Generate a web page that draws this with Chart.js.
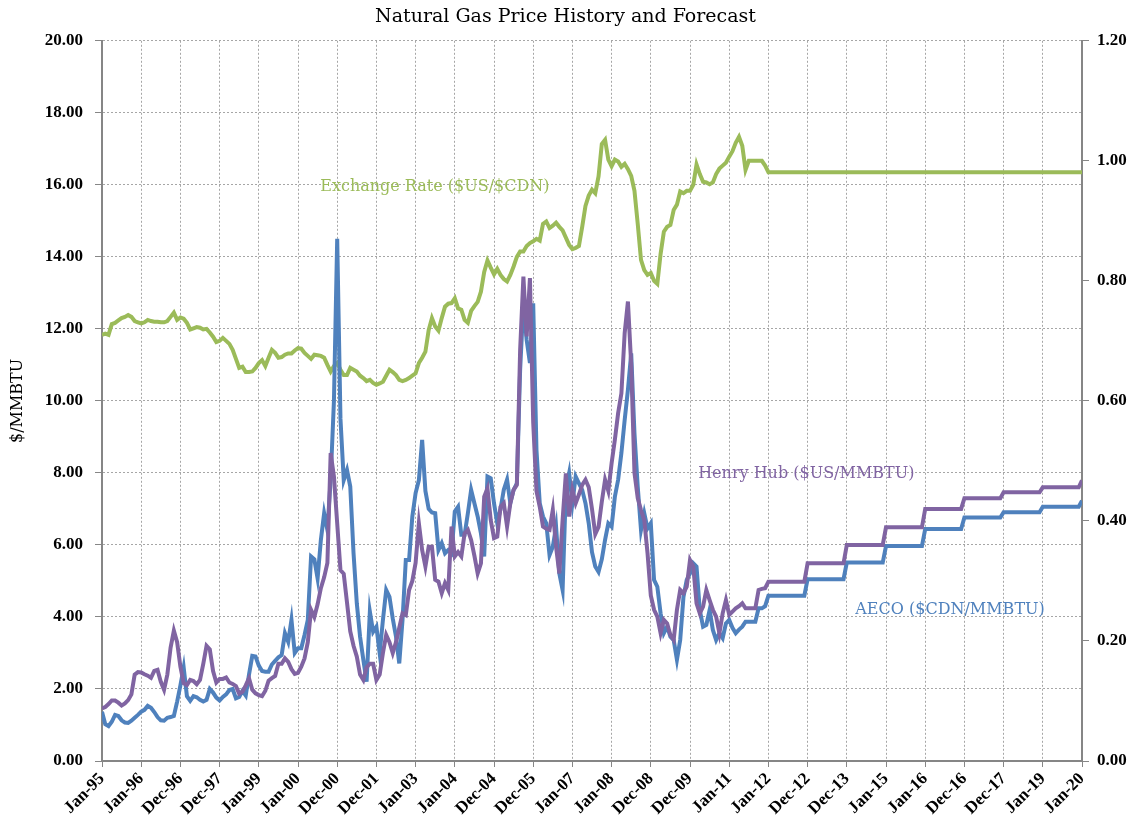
<!DOCTYPE html>
<html>
<head>
<meta charset="utf-8">
<script src="https://cdn.jsdelivr.net/npm/chart.js@4.4.1/dist/chart.umd.min.js"></script>
<style>
  body { margin: 0; background: #fff; }
  canvas { display: block; }
</style>
</head>
<body>
<canvas id="gasChart" width="1131" height="831"></canvas>
<script>
// x tick labels, one every 12 months from Jan-95
const tickLabels = ['Jan-95', 'Jan-96', 'Dec-96', 'Dec-97', 'Jan-99', 'Jan-00', 'Dec-00', 'Dec-01',
  'Jan-03', 'Jan-04', 'Dec-04', 'Dec-05', 'Jan-07', 'Jan-08', 'Dec-08', 'Dec-09', 'Jan-11',
  'Jan-12', 'Dec-12', 'Dec-13', 'Jan-15', 'Jan-16', 'Dec-16', 'Dec-17', 'Jan-19', 'Jan-20'];

// monthly, Jan-95 .. Jan-20 (one row per year)
const henryHub = [
  1.46, 1.50, 1.58, 1.68, 1.68, 1.62, 1.54, 1.60, 1.69, 1.85, 2.40, 2.47,
  2.46, 2.41, 2.37, 2.31, 2.50, 2.53, 2.20, 1.98, 2.40, 3.15, 3.62, 3.30,
  2.62, 2.16, 2.11, 2.25, 2.22, 2.13, 2.25, 2.70, 3.20, 3.10, 2.50, 2.18,
  2.28, 2.28, 2.32, 2.18, 2.14, 2.08, 1.87, 1.92, 2.10, 2.30, 1.98, 1.88,
  1.83, 1.80, 1.95, 2.23, 2.30, 2.36, 2.70, 2.70, 2.85, 2.75, 2.55, 2.42,
  2.45, 2.62, 2.85, 3.30, 4.20, 4.00, 4.35, 4.80, 5.10, 5.50, 8.55, 7.90,
  6.60, 5.30, 5.20, 4.40, 3.60, 3.20, 2.90, 2.40, 2.25, 2.60, 2.70, 2.70,
  2.25, 2.40, 3.00, 3.50, 3.30, 3.00, 3.30, 3.70, 4.10, 4.05, 4.75, 5.00,
  5.50, 6.60, 5.86, 5.40, 5.95, 5.95, 5.03, 4.98, 4.66, 4.94, 4.75, 6.51,
  5.68, 5.80, 5.68, 6.32, 6.42, 6.14, 5.70, 5.21, 5.49, 7.34, 7.57, 6.69,
  6.19, 6.23, 7.06, 7.16, 6.51, 7.16, 7.53, 7.67, 11.42, 13.45, 11.79, 13.41,
  9.40, 7.50, 7.06, 6.51, 6.45, 6.42, 6.97, 5.95, 5.21, 6.69, 7.99, 6.79,
  7.53, 7.16, 7.40, 7.67, 7.81, 7.60, 7.00, 6.30, 6.50, 7.20, 7.81, 7.50,
  8.27, 8.92, 9.66, 10.21, 11.88, 12.76, 11.00, 8.00, 7.30, 6.97, 6.69, 5.77,
  4.60, 4.20, 4.01, 3.55, 3.92, 3.82, 3.50, 3.36, 4.20, 4.75, 4.66, 4.84,
  5.58, 5.40, 4.38, 4.10, 4.29, 4.75, 4.47, 4.20, 4.01, 3.55, 4.10, 4.47,
  4.06, 4.15, 4.24, 4.30, 4.38, 4.24, 4.24, 4.24, 4.24, 4.75, 4.78, 4.80,
  4.98, 4.98, 4.98, 4.98, 4.98, 4.98, 4.98, 4.98, 4.98, 4.98, 4.98, 4.98,
  5.49, 5.49, 5.49, 5.49, 5.49, 5.49, 5.49, 5.49, 5.49, 5.49, 5.49, 5.49,
  6.00, 6.00, 6.00, 6.00, 6.00, 6.00, 6.00, 6.00, 6.00, 6.00, 6.00, 6.00,
  6.49, 6.49, 6.49, 6.49, 6.49, 6.49, 6.49, 6.49, 6.49, 6.49, 6.49, 6.49,
  7.00, 7.00, 7.00, 7.00, 7.00, 7.00, 7.00, 7.00, 7.00, 7.00, 7.00, 7.00,
  7.30, 7.30, 7.30, 7.30, 7.30, 7.30, 7.30, 7.30, 7.30, 7.30, 7.30, 7.30,
  7.46, 7.46, 7.46, 7.46, 7.46, 7.46, 7.46, 7.46, 7.46, 7.46, 7.46, 7.46,
  7.60, 7.60, 7.60, 7.60, 7.60, 7.60, 7.60, 7.60, 7.60, 7.60, 7.60, 7.60,
  7.79
];

const aeco = [
  1.37, 1.02, 0.97, 1.09, 1.28, 1.25, 1.13, 1.07, 1.06, 1.12, 1.20, 1.28,
  1.37, 1.42, 1.53, 1.48, 1.36, 1.22, 1.13, 1.12, 1.20, 1.22, 1.25, 1.65,
  2.10, 2.60, 1.80, 1.67, 1.80, 1.77, 1.70, 1.65, 1.70, 2.00, 1.90, 1.76,
  1.68, 1.78, 1.85, 1.97, 2.00, 1.74, 1.78, 1.95, 1.82, 2.40, 2.92, 2.90,
  2.65, 2.50, 2.48, 2.48, 2.68, 2.78, 2.88, 2.94, 3.55, 3.31, 3.92, 3.00,
  3.13, 3.13, 3.50, 3.92, 5.68, 5.60, 5.07, 6.14, 6.88, 6.42, 7.81, 10.00,
  14.50, 9.50, 7.80, 8.08, 7.62, 5.77, 4.38, 3.45, 2.81, 2.20, 4.15, 3.59,
  3.73, 2.99, 3.92, 4.75, 4.56, 3.96, 3.45, 2.71, 3.92, 5.58, 5.58, 6.79,
  7.44, 7.80, 8.92, 7.50, 7.00, 6.90, 6.88, 5.86, 6.05, 5.77, 5.86, 5.77,
  6.93, 7.06, 6.28, 6.28, 6.88, 7.53, 7.16, 6.79, 6.32, 5.68, 7.90, 7.85,
  7.16, 6.60, 7.00, 7.53, 7.81, 7.16, 7.53, 7.71, 10.86, 12.71, 11.69, 11.05,
  12.71, 8.64, 7.16, 6.79, 6.60, 5.72, 5.95, 6.51, 5.21, 4.75, 7.53, 7.99,
  7.16, 7.90, 7.71, 7.53, 7.16, 6.60, 5.80, 5.40, 5.25, 5.60, 6.14, 6.60,
  6.51, 7.34, 7.81, 8.55, 9.47, 10.31, 11.32, 9.10, 7.62, 6.42, 6.88, 6.46,
  6.60, 5.03, 4.84, 4.10, 3.55, 3.73, 3.45, 3.36, 2.81, 3.36, 4.56, 5.03,
  5.21, 5.49, 5.40, 4.19, 3.73, 3.78, 4.19, 3.64, 3.36, 3.55, 3.41, 3.82,
  3.92, 3.70, 3.55, 3.65, 3.73, 3.87, 3.87, 3.87, 3.87, 4.24, 4.24, 4.30,
  4.59, 4.59, 4.59, 4.59, 4.59, 4.59, 4.59, 4.59, 4.59, 4.59, 4.59, 4.59,
  5.05, 5.05, 5.05, 5.05, 5.05, 5.05, 5.05, 5.05, 5.05, 5.05, 5.05, 5.05,
  5.51, 5.51, 5.51, 5.51, 5.51, 5.51, 5.51, 5.51, 5.51, 5.51, 5.51, 5.51,
  5.97, 5.97, 5.97, 5.97, 5.97, 5.97, 5.97, 5.97, 5.97, 5.97, 5.97, 5.97,
  6.44, 6.44, 6.44, 6.44, 6.44, 6.44, 6.44, 6.44, 6.44, 6.44, 6.44, 6.44,
  6.76, 6.76, 6.76, 6.76, 6.76, 6.76, 6.76, 6.76, 6.76, 6.76, 6.76, 6.76,
  6.91, 6.91, 6.91, 6.91, 6.91, 6.91, 6.91, 6.91, 6.91, 6.91, 6.91, 6.91,
  7.06, 7.06, 7.06, 7.06, 7.06, 7.06, 7.06, 7.06, 7.06, 7.06, 7.06, 7.06,
  7.23
];

const exchangeRate = [
  0.710, 0.712, 0.710, 0.728, 0.730, 0.734, 0.738, 0.740, 0.743, 0.740, 0.733, 0.731,
  0.729, 0.731, 0.735, 0.733, 0.732, 0.732, 0.731, 0.731, 0.733, 0.740, 0.747, 0.735,
  0.739, 0.737, 0.730, 0.719, 0.721, 0.723, 0.722, 0.719, 0.720, 0.714, 0.707, 0.698,
  0.700, 0.705, 0.700, 0.695, 0.685, 0.670, 0.655, 0.657, 0.648, 0.648, 0.649, 0.655,
  0.663, 0.668, 0.658, 0.672, 0.685, 0.680, 0.672, 0.673, 0.677, 0.679, 0.679, 0.684,
  0.688, 0.687, 0.680, 0.675, 0.670, 0.677, 0.676, 0.675, 0.672, 0.660, 0.649, 0.658,
  0.663, 0.652, 0.643, 0.643, 0.655, 0.652, 0.649, 0.642, 0.638, 0.633, 0.635, 0.630,
  0.627, 0.629, 0.632, 0.642, 0.652, 0.648, 0.643, 0.635, 0.633, 0.635, 0.638, 0.642,
  0.646, 0.663, 0.672, 0.682, 0.718, 0.738, 0.724, 0.717, 0.738, 0.757, 0.762, 0.763,
  0.771, 0.754, 0.752, 0.735, 0.730, 0.750, 0.758, 0.765, 0.782, 0.815, 0.834, 0.822,
  0.811, 0.820, 0.810, 0.803, 0.799, 0.810, 0.824, 0.840, 0.849, 0.849, 0.858, 0.863,
  0.866, 0.870, 0.867, 0.895, 0.899, 0.888, 0.892, 0.897, 0.890, 0.884, 0.872, 0.860,
  0.853, 0.855, 0.858, 0.890, 0.925, 0.942, 0.952, 0.946, 0.974, 1.028, 1.035, 1.002,
  0.991, 1.002, 0.999, 0.990, 0.995, 0.986, 0.975, 0.950, 0.895, 0.835, 0.818, 0.810,
  0.813, 0.800, 0.795, 0.845, 0.882, 0.890, 0.893, 0.918, 0.927, 0.949, 0.946, 0.950,
  0.950, 0.960, 0.994, 0.978, 0.965, 0.964, 0.961, 0.964, 0.978, 0.987, 0.992, 0.997,
  1.007, 1.016, 1.030, 1.040, 1.025, 0.985, 1.000, 1.000, 1.000, 1.000, 1.000, 0.992,
  0.981, 0.981, 0.981, 0.981, 0.981, 0.981, 0.981, 0.981, 0.981, 0.981, 0.981, 0.981,
  0.981, 0.981, 0.981, 0.981, 0.981, 0.981, 0.981, 0.981, 0.981, 0.981, 0.981, 0.981,
  0.981, 0.981, 0.981, 0.981, 0.981, 0.981, 0.981, 0.981, 0.981, 0.981, 0.981, 0.981,
  0.981, 0.981, 0.981, 0.981, 0.981, 0.981, 0.981, 0.981, 0.981, 0.981, 0.981, 0.981,
  0.981, 0.981, 0.981, 0.981, 0.981, 0.981, 0.981, 0.981, 0.981, 0.981, 0.981, 0.981,
  0.981, 0.981, 0.981, 0.981, 0.981, 0.981, 0.981, 0.981, 0.981, 0.981, 0.981, 0.981,
  0.981, 0.981, 0.981, 0.981, 0.981, 0.981, 0.981, 0.981, 0.981, 0.981, 0.981, 0.981,
  0.981, 0.981, 0.981, 0.981, 0.981, 0.981, 0.981, 0.981, 0.981, 0.981, 0.981, 0.981,
  0.981
];

const GREEN = '#9BBB59';
const PURPLE = '#8064A2';
const BLUE = '#4F81BD';
const AXIS = '#868686';
const GRID = '#a6a6a6';
const tickFont = { family: "'Liberation Serif', serif", size: 17, weight: 'bold' };

// series labels written inside the plot, placed in data units (month, $/MMBTU)
const notes = [
  { text: 'Exchange Rate ($US/$CDN)', color: GREEN, x: 66.8, y: 15.94 },
  { text: 'Henry Hub ($US/MMBTU)', color: PURPLE, x: 182.5, y: 7.97 },
  { text: 'AECO ($CDN/MMBTU)', color: BLUE, x: 230.6, y: 4.19 }
];

const toPoints = (arr) => arr.map((v, i) => ({ x: i, y: v }));

const notesPlugin = {
  id: 'notes',
  afterDatasetsDraw(chart) {
    const { ctx, scales } = chart;
    ctx.save();
    ctx.font = "16px 'DejaVu Serif', serif";
    ctx.textAlign = 'left';
    ctx.textBaseline = 'middle';
    notes.forEach((n) => {
      ctx.fillStyle = n.color;
      ctx.fillText(n.text, scales.x.getPixelForValue(n.x), scales.y.getPixelForValue(n.y));
    });
    ctx.restore();
  }
};

const lineStyle = { borderWidth: 4, pointRadius: 0, tension: 0, fill: false };

new Chart(document.getElementById('gasChart'), {
  type: 'line',
  data: {
    datasets: [
      { label: 'Henry Hub ($US/MMBTU)', data: toPoints(henryHub), borderColor: PURPLE, yAxisID: 'y', ...lineStyle },
      { label: 'AECO ($CDN/MMBTU)', data: toPoints(aeco), borderColor: BLUE, yAxisID: 'y', ...lineStyle },
      { label: 'Exchange Rate ($US/$CDN)', data: toPoints(exchangeRate), borderColor: GREEN, yAxisID: 'y1', ...lineStyle }
    ]
  },
  options: {
    responsive: false,
    animation: false,
    layout: { padding: 0 },
    plugins: {
      legend: { display: false },
      tooltip: { enabled: false },
      title: {
        display: true,
        text: 'Natural Gas Price History and Forecast',
        color: '#000',
        font: { family: "'DejaVu Serif', serif", size: 19, weight: 'normal' },
        padding: { top: 6, bottom: 12 }
      }
    },
    scales: {
      x: {
        type: 'linear',
        min: 0,
        max: 300,
        afterFit: (scale) => { scale.height = 70; },
        ticks: {
          stepSize: 12,
          autoSkip: false,
          minRotation: 45,
          maxRotation: 45,
          padding: 2,
          color: '#000',
          font: tickFont,
          callback: (v) => tickLabels[Math.round(v / 12)]
        },
        grid: { color: GRID, lineWidth: 1, tickColor: AXIS, tickLength: 6 },
        border: { color: AXIS, width: 2, dash: [2, 2] }
      },
      y: {
        position: 'left',
        min: 0,
        max: 20,
        afterFit: (scale) => { scale.width = 102; },
        ticks: { stepSize: 2, padding: 12, color: '#000', font: tickFont, callback: (v) => v.toFixed(2) },
        grid: { color: GRID, lineWidth: 1, tickColor: AXIS, tickLength: 7 },
        border: { color: AXIS, width: 2, dash: [2, 2] },
        title: {
          display: true,
          text: '$/MMBTU',
          color: '#000',
          font: { family: "'DejaVu Serif', serif", size: 16 },
          padding: { top: 8, bottom: 0 }
        }
      },
      y1: {
        position: 'right',
        min: 0,
        max: 1.2,
        afterFit: (scale) => { scale.width = 49; },
        ticks: { stepSize: 0.2, padding: 8, color: '#000', font: tickFont, callback: (v) => v.toFixed(2) },
        grid: { drawOnChartArea: false, tickColor: AXIS, tickLength: 7 },
        border: { color: AXIS, width: 2 }
      }
    }
  },
  plugins: [notesPlugin]
});
</script>
</body>
</html>
